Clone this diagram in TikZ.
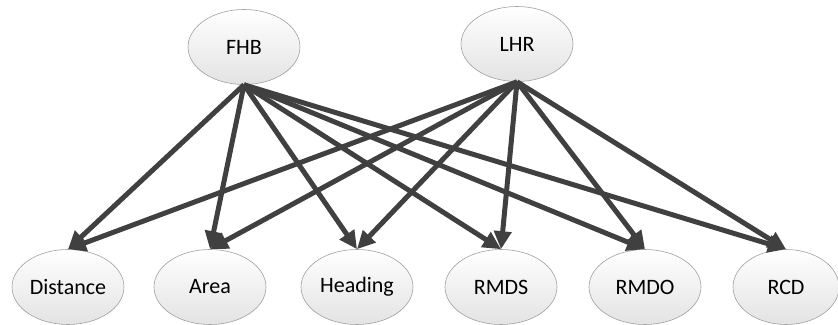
\documentclass[tikz,border=0pt]{standalone}
\usepackage{fontspec}
\setmainfont{Carlito}
\usepackage{tikz}
\usetikzlibrary{arrows.meta,
                positioning,
                shapes.geometric}

\begin{document}
\begin{tikzpicture}[
				x=1pt, y=-1pt,
				main node/.style={ellipse,draw=gray!75,line width=0.6pt,
					top color=white,bottom color=gray!22,
					minimum width=112pt,minimum height=75pt,inner sep=0pt,
					font=\fontsize{22}{26}\selectfont},
				link/.style={draw=black!75,line width=5pt,
					-{Triangle[length=18pt,width=17pt]}}
				]
				\useasboundingbox (0,0) rectangle (838,324);
				% top row
		  		\node[main node] (fhb) at (244,47) {FHB};
		  		\node[main node] (lhr) at (517,44) {LHR};
				% bottom row
		  		\node[main node] (dist) at (68,287) {Distance};
		  		\node[main node] (area) at (210,287) {Area};
		  		\node[main node] (head) at (357,287) {Heading};
		  		\node[main node] (rmds) at (501,287) {RMDS};
		  		\node[main node] (rmdo) at (645,287) {RMDO};
		  		\node[main node, minimum width=106pt] (rcd) at (786,287) {RCD};
				% edges
				\foreach \t in {dist,area,head,rmds,rmdo,rcd}{
					\path[link] (fhb.south) -- (\t.north);
					\path[link] (lhr.south) -- (\t.north);
				}
		\end{tikzpicture}
\end{document}
